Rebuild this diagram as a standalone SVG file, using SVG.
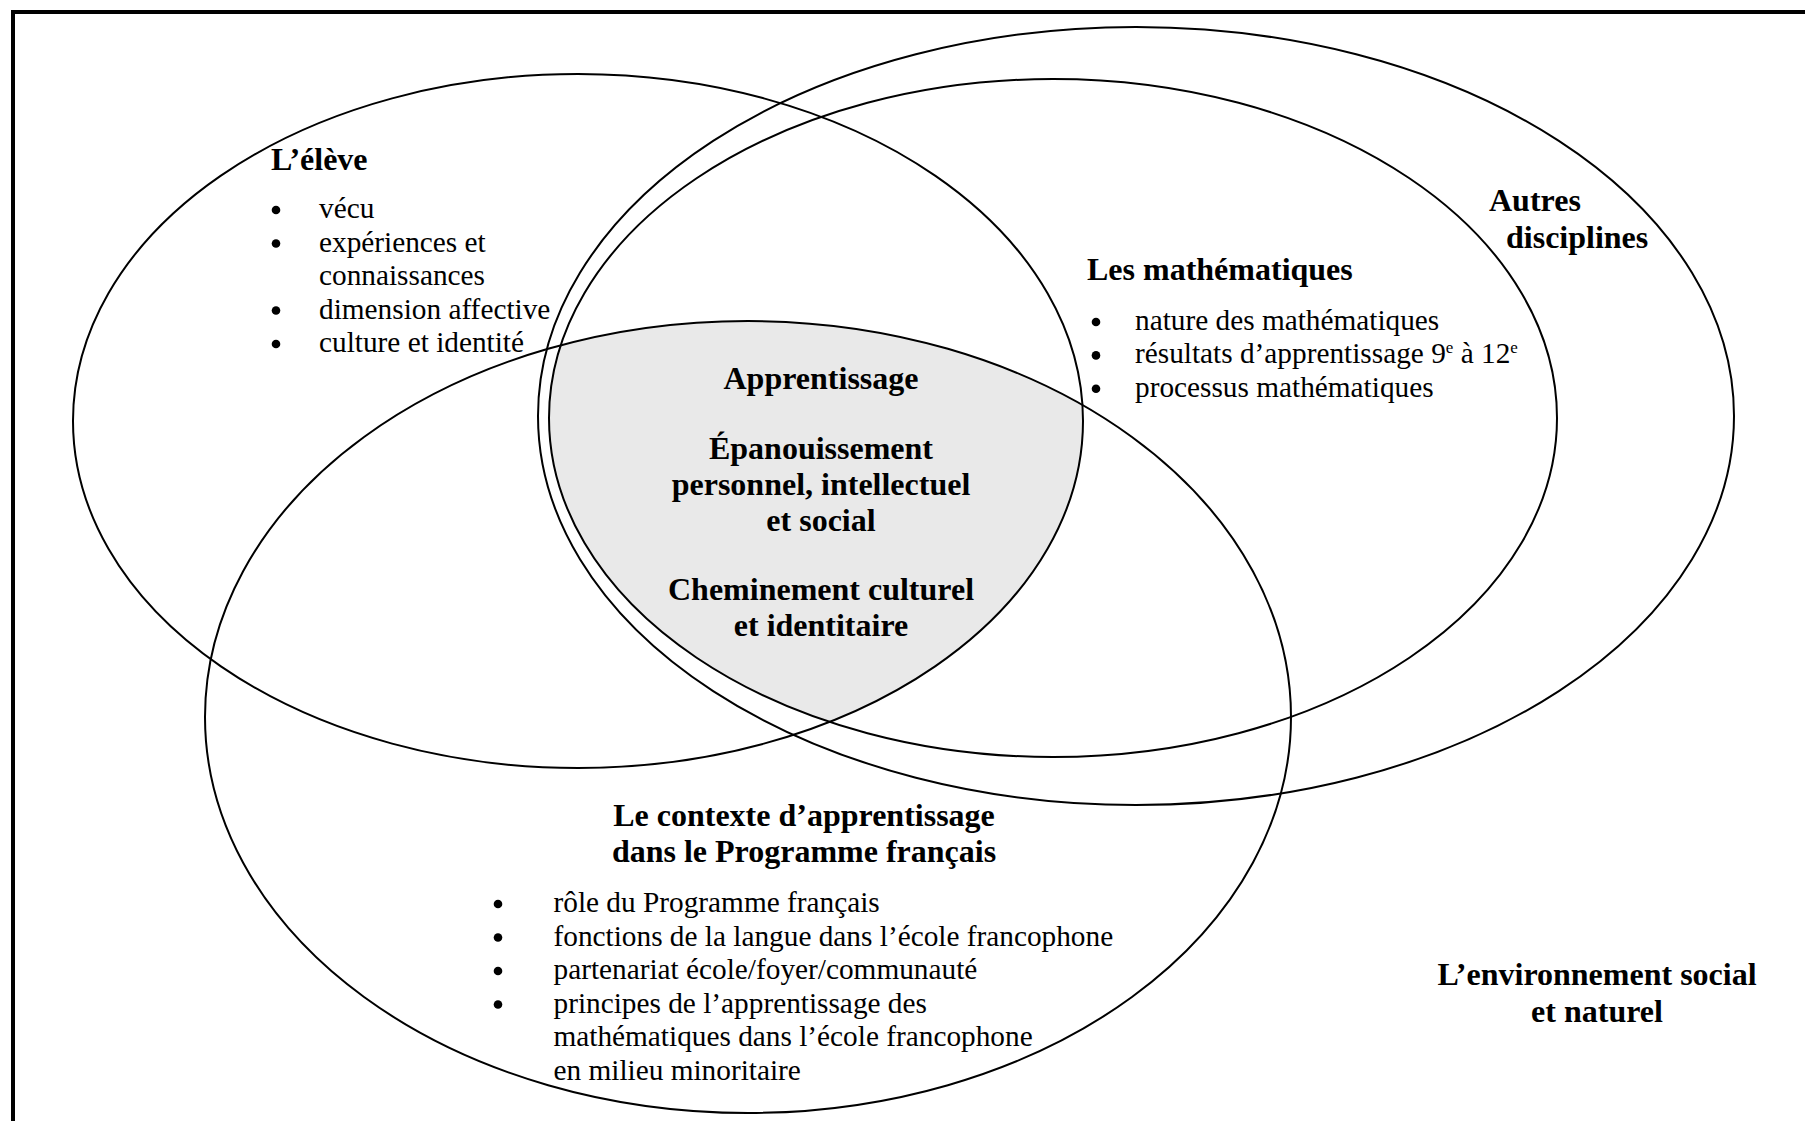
<svg xmlns="http://www.w3.org/2000/svg" width="1805" height="1121" viewBox="0 0 1805 1121">
<style>
  .ring { fill: none; stroke: #000; stroke-width: 2; }
  .t { font-family: "Liberation Serif", "Times New Roman", serif; font-size: 29.3px; fill: #000; }
  .b { font-family: "Liberation Serif", "Times New Roman", serif; font-size: 32px; font-weight: bold; fill: #000; }
  .c { text-anchor: middle; }
  .dot { fill: #000; }
</style>
<defs>
  <clipPath id="clipEleve"><ellipse cx="578" cy="421" rx="505" ry="347"/></clipPath>
  <clipPath id="clipContexte"><ellipse cx="748" cy="717" rx="543" ry="396"/></clipPath>
</defs>
<rect x="0" y="0" width="1805" height="1121" fill="#fff"/>
<rect id="cadre" x="13" y="12" width="1800" height="1120" fill="none" stroke="#000" stroke-width="4"/>

<g id="zone-commune">
  <g clip-path="url(#clipEleve)">
    <g clip-path="url(#clipContexte)">
      <ellipse cx="1053" cy="418" rx="504" ry="339" fill="#e9e9e9"/>
    </g>
  </g>
</g>

<g id="eleve">
  <ellipse class="ring" cx="578" cy="421" rx="505" ry="347"/>
  <text class="b" x="271" y="170">L’élève</text>
  <circle class="dot" cx="276" cy="210" r="4.3"/>
  <text class="t" x="319" y="218">vécu</text>
  <circle class="dot" cx="276" cy="243.5" r="4.3"/>
  <text class="t" x="319" y="251.5">expériences et</text>
  <text class="t" x="319" y="285">connaissances</text>
  <circle class="dot" cx="276" cy="310.5" r="4.3"/>
  <text class="t" x="319" y="318.5">dimension affective</text>
  <circle class="dot" cx="276" cy="344" r="4.3"/>
  <text class="t" x="319" y="352">culture et identité</text>
</g>

<g id="autres-disciplines">
  <ellipse class="ring" cx="1136" cy="416" rx="598" ry="389"/>
  <text class="b" x="1489" y="211">Autres</text>
  <text class="b" x="1506" y="248">disciplines</text>
</g>

<g id="mathematiques">
  <ellipse class="ring" cx="1053" cy="418" rx="504" ry="339"/>
  <text class="b" x="1087" y="280">Les mathématiques</text>
  <circle class="dot" cx="1096" cy="322" r="4.3"/>
  <text class="t" x="1135" y="330">nature des mathématiques</text>
  <circle class="dot" cx="1096" cy="355.4" r="4.3"/>
  <text class="t" x="1135" y="363.4">résultats d’apprentissage 9<tspan dy="-10" font-size="17">e</tspan><tspan dy="10"> à 12</tspan><tspan dy="-10" font-size="17">e</tspan></text>
  <circle class="dot" cx="1096" cy="388.8" r="4.3"/>
  <text class="t" x="1135" y="396.8">processus mathématiques</text>
</g>

<g id="contexte">
  <ellipse class="ring" cx="748" cy="717" rx="543" ry="396"/>
  <text class="b c" x="804" y="826">Le contexte d’apprentissage</text>
  <text class="b c" x="804" y="862">dans le Programme français</text>
  <circle class="dot" cx="498" cy="904" r="4.3"/>
  <text class="t" x="553.5" y="912">rôle du Programme français</text>
  <circle class="dot" cx="498" cy="937.5" r="4.3"/>
  <text class="t" x="553.5" y="945.5">fonctions de la langue dans l’école francophone</text>
  <circle class="dot" cx="498" cy="971" r="4.3"/>
  <text class="t" x="553.5" y="979">partenariat école/foyer/communauté</text>
  <circle class="dot" cx="498" cy="1004.5" r="4.3"/>
  <text class="t" x="553.5" y="1012.5">principes de l’apprentissage des</text>
  <text class="t" x="553.5" y="1046">mathématiques dans l’école francophone</text>
  <text class="t" x="553.5" y="1080">en milieu minoritaire</text>
</g>

<g id="centre">
  <text class="b c" x="821" y="389">Apprentissage</text>
  <text class="b c" x="821" y="459">Épanouissement</text>
  <text class="b c" x="821" y="495">personnel, intellectuel</text>
  <text class="b c" x="821" y="531">et social</text>
  <text class="b c" x="821" y="600">Cheminement culturel</text>
  <text class="b c" x="821" y="636">et identitaire</text>
</g>

<g id="environnement">
  <text class="b c" x="1597" y="985">L’environnement social</text>
  <text class="b c" x="1597" y="1022">et naturel</text>
</g>

<g id="connecteurs"/>
</svg>
